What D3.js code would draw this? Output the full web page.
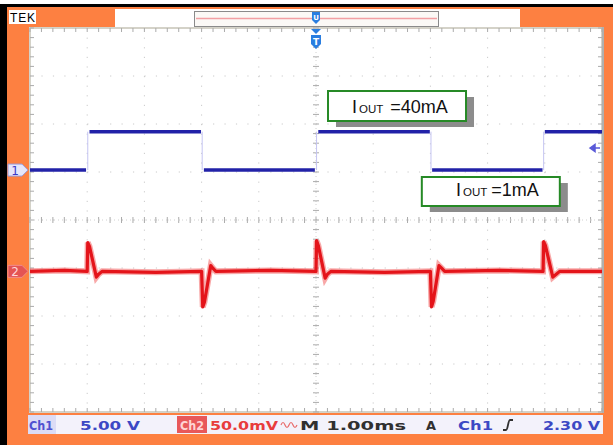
<!DOCTYPE html>
<html>
<script src="https://d3js.org/d3.v7.min.js"></script>

<head>
    <style>
        body {
            margin: 0;
            background-color: #fd8041;
        }

        svg {
            display: block;
        }
    </style>
</head>

<body>
</body>
<script>
    const width = 613,
        height = 445;

    // Ch1 (5.00 V/div): flat levels [start ms, end ms, volts]
    const ch1Segments = [
        [0.0, 0.98, 0], [1.04, 2.99, 4], [3.04, 4.98, 0],
        [5.04, 6.99, 4], [7.03, 8.96, 0], [9.0, 10, 4]
    ];
    // times of the load steps (ms)
    const ch1Edges = [1.01, 3.01, 5.01, 7.01, 8.98];
    // Ch2 (50.0 mV/div, AC): [ms, mV]
    const ch2Points = [
        [0, 0], [0.6, 1], [1.0, 0], [1.01, 30], [1.04, 26], [1.16, -6], [1.2, -3], [1.26, 0],
        [2.2, -1], [3.0, 0], [3.02, -37], [3.05, -32], [3.16, 6], [3.2, 3], [3.25, 0],
        [4.2, 1], [5.0, 0], [5.01, 32], [5.04, 27], [5.16, -7], [5.2, -3], [5.26, 0],
        [6.2, -1], [7.0, 0], [7.02, -37], [7.05, -31], [7.15, 6], [7.2, 3], [7.25, 0],
        [8.2, 1], [8.97, 0], [8.98, 31], [9.01, 27], [9.14, -6], [9.2, -3], [9.26, 0],
        [10, 0]
    ];
    const annotations = [["I", "OUT", "=40mA"], ["I", "OUT", "=1mA"]];
    const statusText = ["Ch1", "5.00 V", "Ch2", "50.0mV", "M 1.00ms", "A", "Ch1", "2.30 V"];
    const trigLevel = 2.30;
    const ch1Offset = 1.04, ch2Offset = -1.07; // divisions

    const svg = d3.select("body").append("svg").attr("width", width).attr("height", height);

    const x = d3.scaleLinear().domain([0, 10]).range([30, 602]);
    const yDiv = d3.scaleLinear().domain([-4, 4]).range([412, 28]);
    const ch1Y = d3.scaleLinear().domain([0, 5]).range([yDiv(ch1Offset), yDiv(ch1Offset + 1)]);
    const ch2Y = d3.scaleLinear().domain([0, 50]).range([yDiv(ch2Offset), yDiv(ch2Offset + 1)]);

    function draw() {
        // frame
        svg.append("rect").attr("width", width).attr("height", height).attr("fill", "#fd8041");
        svg.append("rect").attr("width", width).attr("height", 4).attr("fill", "#fff");
        svg.append("rect").attr("y", 4).attr("width", width).attr("height", 3).attr("fill", "#000");
        svg.append("rect").attr("y", 4).attr("width", 7).attr("height", height).attr("fill", "#000");

        // TEK tag
        svg.append("rect").attr("x", 9).attr("y", 10).attr("width", 27).attr("height", 14).attr("fill", "#fff");
        svg.append("text").attr("x", 10).attr("y", 22).attr("font-family", "Liberation Sans")
            .attr("font-size", 12).attr("textLength", 25).text("TEK");

        // record bar
        svg.append("rect").attr("x", 115).attr("y", 9).attr("width", 405).attr("height", 19).attr("fill", "#fff");
        svg.append("rect").attr("x", 194.5).attr("y", 11.5).attr("width", 244).attr("height", 15)
            .attr("fill", "#fbf9f6").attr("stroke", "#8a8a8a");
        svg.append("line").attr("x1", 196).attr("x2", 437).attr("y1", 18.5).attr("y2", 18.5)
            .attr("stroke", "#f2a0a4").attr("stroke-width", 1.5);

        // screen
        const x0 = x(0), x1 = x(10), y0 = yDiv(4), y1 = yDiv(-4);
        svg.append("rect").attr("x", x0).attr("y", y0).attr("width", x1 - x0).attr("height", y1 - y0)
            .attr("fill", "#fff").attr("stroke", "#d4d2c8").attr("stroke-width", 2);
        svg.append("line").attr("x1", x1 + 1).attr("x2", x1 + 1).attr("y1", y0 - 1).attr("y2", y1 + 1)
            .attr("stroke", "#b0b0ae").attr("stroke-width", 2);

        const grid = svg.append("g").attr("stroke", "#cacaca");
        d3.range(1, 10).forEach(i => {
            grid.append("line").attr("x1", x(i)).attr("x2", x(i)).attr("y1", y0).attr("y2", y1)
                .attr("stroke-dasharray", "1.2,8.4");
        });
        d3.range(-3, 4).forEach(j => {
            grid.append("line").attr("x1", x0).attr("x2", x1).attr("y1", yDiv(j)).attr("y2", yDiv(j))
                .attr("stroke-dasharray", "1.2,10.24");
        });
        const ticks = svg.append("g").attr("stroke", "#ababab");
        d3.range(0, 10.01, 0.2).forEach(t => {
            ticks.append("line").attr("x1", x(t)).attr("x2", x(t)).attr("y1", yDiv(0) - 3).attr("y2", yDiv(0) + 3);
            ticks.append("line").attr("x1", x(t)).attr("x2", x(t)).attr("y1", y0).attr("y2", y0 + 4);
            ticks.append("line").attr("x1", x(t)).attr("x2", x(t)).attr("y1", y1 - 4).attr("y2", y1);
        });
        d3.range(-4, 4.01, 0.2).forEach(d => {
            ticks.append("line").attr("x1", x(5) - 3).attr("x2", x(5) + 3).attr("y1", yDiv(d)).attr("y2", yDiv(d));
            ticks.append("line").attr("x1", x0).attr("x2", x0 + 4).attr("y1", yDiv(d)).attr("y2", yDiv(d));
            ticks.append("line").attr("x1", x1 - 4).attr("x2", x1).attr("y1", yDiv(d)).attr("y2", yDiv(d));
        });
        ticks.append("line").attr("x1", x0).attr("x2", x1).attr("y1", yDiv(0)).attr("y2", yDiv(0))
            .attr("stroke", "#d0d0d0").attr("stroke-dasharray", "1,3");
        ticks.append("line").attr("x1", x(5)).attr("x2", x(5)).attr("y1", y0).attr("y2", y1)
            .attr("stroke", "#d0d0d0").attr("stroke-dasharray", "1,3");

        // trigger position markers
        const tx = x(5);
        svg.append("path").attr("d", `M${tx - 4},12 h8 v8 l-4,4 l-4,-4 Z`).attr("fill", "#2a7ee0");
        svg.append("text").attr("x", tx).attr("y", 20).attr("text-anchor", "middle").attr("fill", "#fff")
            .attr("font-family", "DejaVu Sans").attr("font-size", 7).attr("font-weight", "bold").text("U");
        svg.append("path").attr("d", `M${tx - 5},29 h10 l-5,5 Z`).attr("fill", "#2a7ee0");
        svg.append("path").attr("d", `M${tx - 5},35 h10 v9 l-5,5 l-5,-5 Z`).attr("fill", "#2a7ee0");
        svg.append("text").attr("x", tx).attr("y", 45).attr("text-anchor", "middle").attr("fill", "#fff")
            .attr("font-family", "DejaVu Sans").attr("font-size", 9).attr("font-weight", "bold").text("T");

        // Ch1 trace
        svg.selectAll(".edge").data(ch1Edges).join("line").attr("class", "edge")
            .attr("x1", d => x(d)).attr("x2", d => x(d))
            .attr("y1", ch1Y(0)).attr("y2", ch1Y(4))
            .attr("stroke", "#c4c4f2").attr("stroke-width", 1);
        svg.selectAll(".seg").data(ch1Segments).join("line").attr("class", "seg")
            .attr("x1", d => x(d[0])).attr("x2", d => x(d[1]))
            .attr("y1", d => ch1Y(d[2])).attr("y2", d => ch1Y(d[2]))
            .attr("stroke", "#2222a8").attr("stroke-width", 3.5);

        // Ch2 trace
        const line = d3.line().x(d => x(d[0])).y(d => ch2Y(d[1]));
        svg.append("path").datum(ch2Points).attr("d", line).attr("fill", "none")
            .attr("stroke", "#f26060").attr("stroke-width", 6).attr("stroke-opacity", 0.55);
        svg.append("path").datum(ch2Points).attr("d", line).attr("fill", "none")
            .attr("stroke", "#e4141a").attr("stroke-width", 3.2).attr("stroke-linejoin", "round");

        // trigger level arrow
        const ty = ch1Y(trigLevel);
        svg.append("path").attr("d", `M${x1 - 12},${ty} l5,-3.5 v7 Z M${x1 - 8},${ty} h6`)
            .attr("fill", "#5a5ad8").attr("stroke", "#5a5ad8").attr("stroke-width", 1.5);

        // channel markers
        const m1 = ch1Y(0), m2 = ch2Y(0);
        svg.append("path").attr("d", `M8,${m1 - 6} h14 l6,6 l-6,6 h-14 Z`)
            .attr("fill", "#e6e6fa").attr("stroke", "#9a9ad8");
        svg.append("text").attr("x", 15).attr("y", m1 + 4.5).attr("text-anchor", "middle")
            .attr("font-family", "DejaVu Sans").attr("font-size", 12).attr("fill", "#3a3ac8").text("1");
        svg.append("path").attr("d", `M8,${m2 - 6} h14 l6,6 l-6,6 h-14 Z`)
            .attr("fill", "#e45454").attr("stroke", "#f08a8a");
        svg.append("text").attr("x", 15).attr("y", m2 + 4.5).attr("text-anchor", "middle")
            .attr("font-family", "DejaVu Sans").attr("font-size", 12).attr("fill", "#ffd8d8").text("2");

        // annotation boxes
        const boxes = [
            { x: x(5.21), y: 91, w: 138, h: 30, tx: 352, ty: 113, gap: 7 },
            { x: x(6.85), y: 177, w: 138, h: 29, tx: 456, ty: 196, gap: 4 }
        ];
        annotations.forEach((a, i) => {
            const b = boxes[i];
            svg.append("rect").attr("x", b.x + 8).attr("y", b.y + 6).attr("width", b.w).attr("height", b.h)
                .attr("fill", "#8c8c8c");
            svg.append("rect").attr("x", b.x).attr("y", b.y).attr("width", b.w).attr("height", b.h)
                .attr("fill", "#fff").attr("stroke", "#268a26").attr("stroke-width", 2);
            const t = svg.append("text").attr("x", b.tx).attr("y", b.ty)
                .attr("font-family", "Liberation Sans").attr("fill", "#111");
            t.append("tspan").attr("font-size", 18).text(a[0]);
            t.append("tspan").attr("font-size", 11.5).attr("dx", 2).text(a[1]);
            t.append("tspan").attr("font-size", 18).attr("dx", b.gap).text(a[2]);
        });

        // status bar
        svg.append("rect").attr("x", 28).attr("y", 415).attr("width", 575).attr("height", 19).attr("fill", "#f3f2fb");
        svg.append("rect").attr("x", 28).attr("y", 415).attr("width", 28).attr("height", 19).attr("fill", "#dcdcf6");
        svg.append("rect").attr("x", 177).attr("y", 416).attr("width", 30).attr("height", 17).attr("fill", "#e8585a");
        const slots = [
            { x: 29, len: 24, c: "#5050d0" },
            { x: 80, len: 60, c: "#3c48c4" },
            { x: 180, len: 24, c: "#ffd4d4" },
            { x: 210, len: 68, c: "#e83c3c" },
            { x: 300, len: 106, c: "#303030" },
            { x: 426, len: 10, c: "#303030" },
            { x: 458, len: 35, c: "#3c48c4" },
            { x: 543, len: 57, c: "#3c48c4" }
        ];
        statusText.forEach((s, i) => {
            svg.append("text").attr("x", slots[i].x).attr("y", 430)
                .attr("font-family", "DejaVu Sans").attr("font-weight", "bold").attr("font-size", 12)
                .attr("fill", slots[i].c).attr("textLength", slots[i].len).attr("lengthAdjust", "spacingAndGlyphs")
                .text(s);
        });
        // AC coupling squiggle
        svg.append("path").attr("d", "M281,425 q2,-5 4,0 t4,0 M289,425 q2,-5 4,0 t4,0")
            .attr("fill", "none").attr("stroke", "#e86a6a").attr("stroke-width", 1.2);
        // rising slope symbol
        svg.append("path").attr("d", "M503,430 h3 c2,0 2,-10 4,-10 h3")
            .attr("fill", "none").attr("stroke", "#303030").attr("stroke-width", 1.8);
    }

    draw();
</script>

</html>
